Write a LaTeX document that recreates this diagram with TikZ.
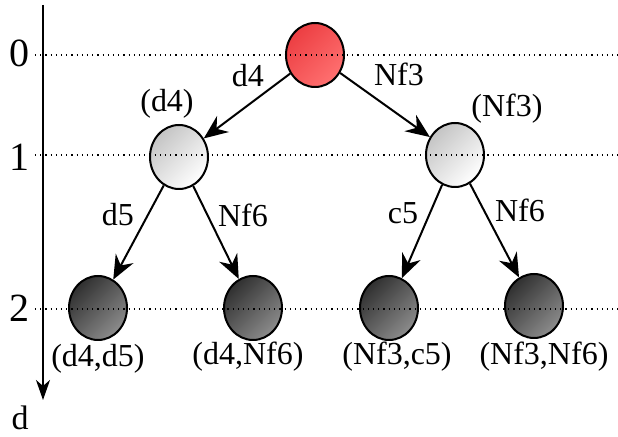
\documentclass[tikz,border=0pt]{standalone}
\usepackage{fontspec}
\setmainfont{Liberation Serif}
\usetikzlibrary{arrows.meta,shapes.geometric}

\tikzset{
  posnode/.style={ellipse,draw,line width=1pt,inner sep=0pt,
    minimum width=29pt,minimum height=32pt},
  rootnode/.style={posnode,top color={rgb,255:red,236;green,62;blue,66},
    bottom color={rgb,255:red,255;green,112;blue,112},shading angle=45},
  firstnode/.style={posnode,top color={rgb,255:red,196;green,196;blue,196},
    bottom color=white,shading angle=45},
  leafnode/.style={posnode,top color={rgb,255:red,48;green,48;blue,48},
    bottom color={rgb,255:red,140;green,140;blue,140},shading angle=45},
  move/.style={font=\rmfamily\fontsize{16}{19}\selectfont},
  plylabel/.style={font=\rmfamily\fontsize{20}{24}\selectfont},
  plyline/.style={dotted,line width=0.6pt},
  moveedge/.style={line width=1pt,-{Stealth[length=12pt,width=10pt,inset=4pt]}}
}

\begin{document}
\begin{tikzpicture}[x=0.5pt,y=-0.5pt]
  \useasboundingbox (0,0) rectangle (618,437);

  % depth axis
  \coordinate (top) at (43,5);
  \node (d) at (20,418) [font=\rmfamily\fontsize{17}{20}\selectfont] {d};
  \coordinate (bottom) at (43,400);
  \draw[line width=0.6pt,-{Stealth[length=10pt,width=7pt,inset=3pt]}] (top) -- (bottom);

  \node (l0) at (20,53)  [plylabel] {0};
  \node (l1) at (20,157) [plylabel] {1};
  \node (l2) at (20,308) [plylabel] {2};

  % positions
  \node (root) at (315,55)  [rootnode] {};
  \node (a)    at (179,157) [firstnode] {};
  \node (b)    at (455,155) [firstnode] {};
  \node (aa)   at (98,308)  [leafnode] {};
  \node (ab)   at (253,308) [leafnode] {};
  \node (ba)   at (389,308) [leafnode] {};
  \node (bb)   at (534,306) [leafnode] {};

  % plies
  \coordinate (p0a) at (35,55);  \coordinate (p0b) at (618,55);
  \coordinate (p1a) at (35,155); \coordinate (p1b) at (618,155);
  \coordinate (p2a) at (35,309); \coordinate (p2b) at (618,309);
  \draw[plyline] (p0a) -- (p0b);
  \draw[plyline] (p1a) -- (p1b);
  \draw[plyline] (p2a) -- (p2b);

  % moves
  \draw[moveedge] (root) -- (a);
  \draw[moveedge] (root) -- (b);
  \draw[moveedge] (a) -- (aa);
  \draw[moveedge] (a) -- (ab);
  \draw[moveedge] (b) -- (ba);
  \draw[moveedge] (b) -- (bb);

  \node (mA)  at (248,76)  [move] {d4};
  \node (mB)  at (399,74)  [move] {Nf3};
  \node (mAA) at (118,215) [move] {d5};
  \node (mAB) at (243,215) [move] {Nf6};
  \node (mBA) at (403,213) [move] {c5};
  \node (mBB) at (520,210) [move] {Nf6};

  \node (na)  at (167,104) [move] {(d4)};
  \node (nb)  at (507,109) [move] {(Nf3)};
  \node (naa) at (98,359)  [move] {(d4,d5)};
  \node (nab) at (248,357) [move] {(d4,Nf6)};
  \node (nba) at (397,357) [move] {(Nf3,c5)};
  \node (nbb) at (544,357) [move] {(Nf3,Nf6)};
\end{tikzpicture}
\end{document}
